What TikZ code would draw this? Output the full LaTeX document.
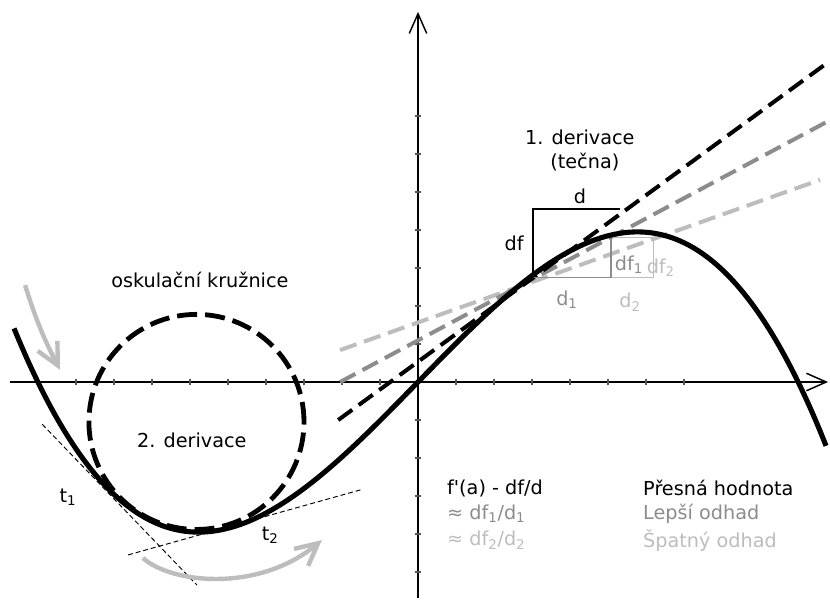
\documentclass[tikz,border=0pt]{standalone}
\usepackage{fontspec}
\setmainfont{DejaVu Sans}
\usetikzlibrary{arrows.meta, positioning, calc}
\definecolor{mid-gray}{HTML}{8C8C8C}
\definecolor{light-gray}{HTML}{BDBDBD}
\definecolor{tick-gray}{HTML}{555555}
\tikzset{
  axis-line/.style={line width=1.1pt, draw=black, -{Straight Barb[length=5.2mm, width=4.6mm]}},
  axis-tick/.style={line width=0.9pt, draw=tick-gray},
  func-curve/.style={line width=3.8pt, draw=black},
  tangent-line/.style={line width=3pt, draw=black, dash pattern=on 13pt off 6pt},
  secant-one/.style={line width=3pt, draw=mid-gray, dash pattern=on 13pt off 6pt},
  secant-two/.style={line width=3pt, draw=light-gray, dash pattern=on 13pt off 6pt},
  osc-circle/.style={line width=3.6pt, draw=black, dash pattern=on 15pt off 6pt},
  touch-line/.style={line width=0.7pt, draw=black, dash pattern=on 3.7pt off 2.2pt},
  hint-arrow/.style={line width=3.3pt, draw=light-gray, -{Straight Barb[length=5.8mm, width=5.8mm]}},
  label-text/.style={font=\fontsize{14.4}{16}\selectfont, inner sep=0pt}
}
\begin{document}
\begin{tikzpicture}
  \useasboundingbox (-11,-5.763) rectangle (10.842,10.053);

  % osy
  \coordinate (x-start) at (-10.74,0);
  \coordinate (x-end) at (10.79,0);
  \coordinate (y-start) at (0,-5.68);
  \coordinate (y-end) at (0,9.74);
  \draw[axis-line] (x-start) -- (x-end);
  \draw[axis-line] (y-start) -- (y-end);
  \foreach \i in {-9,...,-1,1,2,...,7}
    \draw[axis-tick] (\i,-0.09) -- (\i,0.09);
  \foreach \j in {-5,...,-1,1,2,...,7}
    \draw[axis-tick] (-0.09,\j) -- (0.09,\j);

  % secny a tecna
  \coordinate (sec2-a) at (-2.05,0.84);
  \coordinate (sec2-b) at (10.58,5.32);
  \coordinate (sec1-a) at (-2.05,0);
  \coordinate (sec1-b) at (10.84,6.89);
  \coordinate (tan-a) at (-2.1,-1.0);
  \coordinate (tan-b) at (10.84,8.45);
  \draw[secant-two] (sec2-a) -- (sec2-b);
  \draw[secant-one] (sec1-a) -- (sec1-b);
  \draw[tangent-line] (tan-a) -- (tan-b);

  % pravouhelniky
  \coordinate (a-pt) at (3.03,2.75);
  \coordinate (d1-pt) at (5.08,2.75);
  \coordinate (d2-pt) at (6.2,2.75);
  \draw[line width=1.1pt, draw=light-gray] (d1-pt) -- (d2-pt) -- (6.2,3.8) -- (5.08,3.8);
  \draw[line width=1.1pt, draw=mid-gray] (a-pt) -- (d1-pt) -- (5.08,3.86);
  \draw[line width=1.1pt, draw=black] (3.03,2.83) |- (5.32,4.55);

  % oskulacni kruznice a dotycnice
  \node[circle, osc-circle, minimum size=5.66cm, inner sep=0pt] (osc) at (-5.83,-1.05) {};
  \coordinate (t1-a) at (-9.89,-1.11);
  \coordinate (t1-b) at (-5.82,-5.34);
  \coordinate (t2-a) at (-7.63,-4.55);
  \coordinate (t2-b) at (-1.45,-2.82);
  \draw[touch-line] (t1-a) -- (t1-b);
  \draw[touch-line] (t2-a) -- (t2-b);

  % funkce
  \draw[func-curve] plot[domain=-10.63:10.74, samples=120, smooth] (\x,{1.026*\x-0.01026*\x*\x*\x});

  % sipky smeru
  \coordinate (arr1-a) at (-10.34,2.55);
  \coordinate (arr1-b) at (-9.42,0.32);
  \coordinate (arr2-a) at (-7.24,-4.63);
  \coordinate (arr2-b) at (-2.53,-4.16);
  \draw[hint-arrow] (arr1-a) to[bend right=5] (arr1-b);
  \draw[hint-arrow] (arr2-a) .. controls (-6.5,-5.3) and (-4.2,-5.55) .. (arr2-b);

  % popisky
  \node[label-text] (osc-label) at (-5.74,2.68) {oskulační kružnice};
  \node[label-text] (second-label) at (-5.95,-1.53) {2. derivace};
  \node[label-text] (t1-label) at (-9.21,-3.03) {t\textsubscript{1}};
  \node[label-text] (t2-label) at (-3.89,-4.03) {t\textsubscript{2}};
  \node[label-text] (first-label) at (4.26,6.45) {1. derivace};
  \node[label-text] (tecna-label) at (4.39,5.79) {(tečna)};
  \node[label-text] (d-label) at (4.26,4.89) {d};
  \node[label-text] (df-label) at (2.53,3.66) {df};
  \node[label-text, text=mid-gray] (df1-label) at (5.55,3.08) {df\textsubscript{1}};
  \node[label-text, text=light-gray] (df2-label) at (6.39,3.0) {df\textsubscript{2}};
  \node[label-text, text=mid-gray] (d1-label) at (3.92,2.16) {d\textsubscript{1}};
  \node[label-text, text=light-gray] (d2-label) at (5.58,2.1) {d\textsubscript{2}};

  % legenda
  \node[label-text, anchor=west] (exact-eq) at (0.76,-2.79) {f\textquotesingle(a) - df/d};
  \node[label-text, anchor=west, text=mid-gray] (better-eq) at (0.76,-3.47) {≈ df\textsubscript{1}/d\textsubscript{1}};
  \node[label-text, anchor=west, text=light-gray] (worse-eq) at (0.76,-4.16) {≈ df\textsubscript{2}/d\textsubscript{2}};
  \node[label-text, anchor=west] (exact-txt) at (5.92,-2.79) {Přesná hodnota};
  \node[label-text, anchor=west, text=mid-gray] (better-txt) at (5.92,-3.47) {Lepší odhad};
  \node[label-text, anchor=west, text=light-gray] (worse-txt) at (5.92,-4.16) {Špatný odhad};
\end{tikzpicture}
\end{document}
